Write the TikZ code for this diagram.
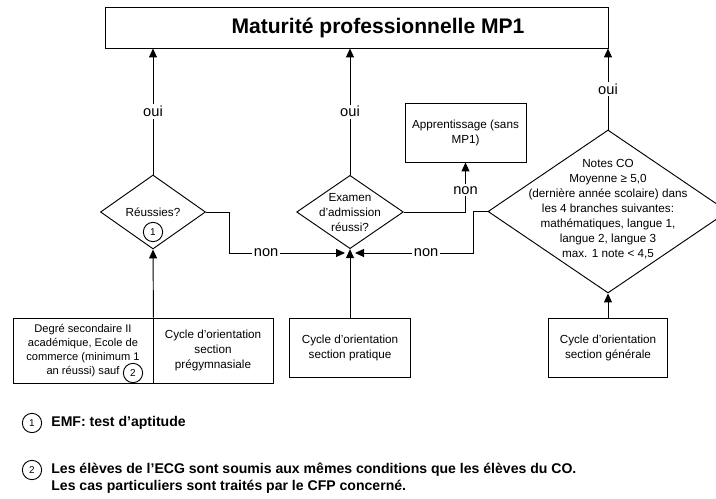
\documentclass[tikz,border=0pt]{standalone}
\usepackage{fontspec}
\setmainfont{Liberation Sans}
\usetikzlibrary{shapes.geometric, arrows.meta, positioning}

\newcommand{\boxfont}{\fontsize{10}{12.8}\selectfont}
\newcommand{\answerfont}{\fontsize{12.5}{14}\selectfont}
\newcommand{\notefont}{\fontsize{12}{14.5}\selectfont\bfseries}

\tikzset{
    box/.style={draw, rectangle, align=center, font=\boxfont, inner sep=1pt},
    choice/.style={draw, diamond, inner sep=0pt},
    answer/.style={fill=white, font=\answerfont, inner sep=1.5pt},
    refmark/.style={draw, circle, inner sep=0pt, minimum size=5.8mm, font=\fontsize{8.5}{8.5}\selectfont},
    link/.style={-{Triangle[length=2.7mm, width=2.4mm]}},
}

\begin{document}
\begin{tikzpicture}[x=0.3mm, y=-0.3mm, line width=0.8pt]
    \useasboundingbox (0,0) rectangle (716,499);
    \clip (0,0) rectangle (716,499);

    \node[draw, minimum width=150.9mm, minimum height=12.3mm] (mp1) at (356.5,27.5) {};
    \node[font=\fontsize{18}{20}\selectfont\bfseries] (title) at (378,27.5) {Maturité professionnelle MP1};

    % decisions
    \node[choice, minimum width=31.5mm, minimum height=22.2mm] (d1) at (153,212) {};
    \node[font=\boxfont] (q1) at (153,212) {Réussies?};
    \node[refmark] (c1) at (153,232) {1};

    \node[choice, minimum width=32mm, minimum height=22mm] (d2) at (350,212) {};
    \node[align=center, font=\boxfont] (q2) at (350,213) {Examen\\d'admission\\réussi?};

    \node[choice, minimum width=72mm, minimum height=48.9mm] (d3) at (608,211.5) {};
    \node[align=center, font=\boxfont] (q3) at (608,209) {Notes CO\\Moyenne ≥ 5,0\\(dernière année scolaire) dans\\les 4 branches suivantes:\\mathématiques, langue 1,\\langue 2, langue 3\\max. 1 note < 4,5};

    % boxes
    \node[box, minimum width=36.3mm, minimum height=17.7mm] (app) at (465.5,132.5) {Apprentissage (sans\\MP1)};
    \node[box, minimum width=42mm, minimum height=19.5mm, font=\fontsize{9.5}{11.7}\selectfont] (deg) at (83,350.5) {Degré secondaire II\\académique, Ecole de\\commerce (minimum 1\\an réussi) sauf};
    \node[refmark] (c2) at (133,373) {2};
    \node[box, minimum width=36mm, minimum height=19.5mm] (pregym) at (213,350.5) {Cycle d'orientation\\section\\prégymnasiale};
    \node[box, minimum width=36.3mm, minimum height=17.7mm] (prat) at (350,347.5) {Cycle d'orientation\\section pratique};
    \node[box, minimum width=35.7mm, minimum height=17.7mm] (gen) at (608,347.5) {Cycle d'orientation\\section générale};

    \coordinate (jl) at (345,253);
    \coordinate (jr) at (355,253);

    % connectors
    \draw[link] (d1.north) -- node[answer]{oui} (d1.north |- mp1.south);
    \draw[link] (d2.north) -- node[answer]{oui} (d2.north |- mp1.south);
    \draw[link] (d3.north) -- node[answer]{oui} (d3.north |- mp1.south);

    \draw[link] (deg.north east) -- (d1.south);
    \draw[link] (prat.north) -- (d2.south);
    \draw[link] (gen.north) -- (d3.south);

    \draw[link] (d1.east) -- ++(23,0) |- node[answer, pos=0.66]{non} (jl);
    \draw[link] (d3.west) -- ++(-14,0) |- node[answer, pos=0.7]{non} (jr);
    \draw[link] (d2.east) -| node[answer, pos=0.72]{non} (app.south);

    % notes
    \node[refmark] (m1) at (32,423) {1};
    \node[anchor=west, font=\notefont] (n1) at (47,423) {EMF: test d'aptitude};
    \node[refmark] (m2) at (32,470) {2};
    \node[anchor=west, align=left, font=\notefont] (n2) at (47,478.5) {Les élèves de l'ECG sont soumis aux mêmes conditions que les élèves du CO.\\Les cas particuliers sont traités par le CFP concerné.};
\end{tikzpicture}
\end{document}
